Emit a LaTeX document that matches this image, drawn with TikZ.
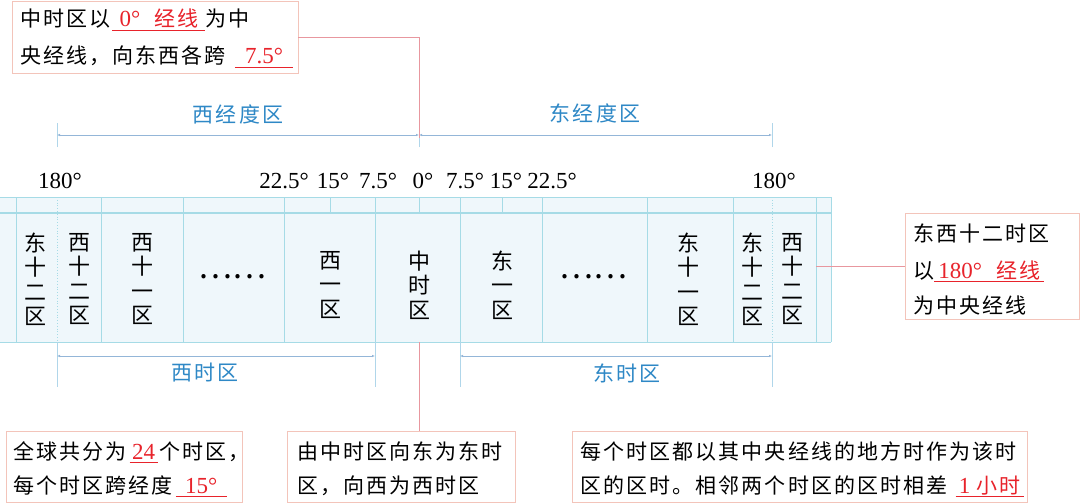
\documentclass[tikz,border=0pt]{standalone}
\usepackage{fontspec}
\setmainfont{Liberation Serif}
\newfontfamily\cjk[LetterSpace=10]{Noto Sans CJK SC}
\newfontfamily\cjkc{Noto Sans CJK SC}
\usetikzlibrary{arrows.meta}
\definecolor{ured}{HTML}{E8232B}
\definecolor{ublue}{HTML}{2E88C6}
\definecolor{gridc}{HTML}{A6DBE6}
\definecolor{bandfill}{HTML}{EFF7FB}
\definecolor{dimc}{HTML}{94B6D8}
\definecolor{tickc}{HTML}{B0D6EA}
\definecolor{pinkl}{HTML}{E8979F}
\definecolor{boxc}{HTML}{F3C4BA}
\newcommand\blankfill[2]{\makebox[#1][c]{\color{ured}#2}\llap{\color{ured}\rule[-4pt]{#1}{0.9pt}}}
\newcommand\latnum[1]{{\rmfamily\fontsize{23}{24}\selectfont #1}}
\tikzset{
  txt/.style={anchor=base west, inner sep=0pt, font=\cjk\fontsize{21}{24}\selectfont},
  infobox/.style={draw=boxc, line width=0.8pt, fill=white, inner sep=0pt},
  deg/.style={anchor=base, inner sep=0pt, font=\rmfamily\fontsize{23}{24}\selectfont},
  cell/.style={align=center, inner sep=0pt, font=\cjkc\fontsize{22}{24.5}\selectfont},
  bluelab/.style={inner sep=0pt, text=ublue, font=\cjk\fontsize{21}{24}\selectfont},
  gridline/.style={draw=gridc, line width=0.8pt},
  dotline/.style={draw=gridc, line width=0.8pt, dotted},
  dimline/.style={draw=dimc, line width=0.7pt, {Latex[length=3pt,width=2.5pt]}-{Latex[length=3pt,width=2.5pt]}},
  tickline/.style={draw=tickc, line width=0.8pt},
  callout/.style={draw=pinkl, line width=0.9pt},
  dots/.style={inner sep=0pt, font=\cjkc\fontsize{32}{32}\selectfont}
}
\begin{document}
\begin{tikzpicture}[x=1pt,y=-1pt]
\useasboundingbox (0,0) rectangle (1080,503);
\fill[white] (0,0) rectangle (1080,503);

% band
\fill[bandfill] (0,197) rectangle (831,342);
\draw[gridline] (0,197) -- (831,197);
\draw[gridline] (0,342) -- (831,342);
\draw[gridline, line width=1.2pt] (0,213) -- (831,213);
\draw[gridline] (831,197) -- (831,342);
\foreach \x in {16,101,183,284,375,460,542,647,733,816}
  \draw[gridline] (\x,197) -- (\x,342);
\foreach \x in {330,419,502}
  \draw[gridline] (\x,197) -- (\x,213);
\foreach \x in {57,772}
  \draw[dotline] (\x,197) -- (\x,342);

% cell texts
\node[cell] (e12a) at (35,279) {东\\十\\二\\区};
\node[cell] (w12a) at (79,279) {西\\十\\二\\区};
\node[cell] (w11) at (142,279) {西\\十\\一\\区};
\node[dots] (dw) at (232,277) {……};
\node[cell] (w1) at (330,285) {西\\一\\区};
\node[cell] (mid) at (419,285) {中\\时\\区};
\node[cell] (e1) at (502,285) {东\\一\\区};
\node[dots] (de) at (593,277) {……};
\node[cell] (e11) at (688,279) {东\\十\\一\\区};
\node[cell] (e12b) at (752,279) {东\\十\\二\\区};
\node[cell] (w12b) at (792,279) {西\\十\\二\\区};

% degree labels
\node[deg] (d180w) at (60,188) {180°};
\node[deg] (d225w) at (284,188) {22.5°};
\node[deg] (d15w) at (333,188) {15°};
\node[deg] (d75w) at (378,188) {7.5°};
\node[deg] (d0) at (423,188) {0°};
\node[deg] (d75e) at (465,188) {7.5°};
\node[deg] (d15e) at (506,188) {15°};
\node[deg] (d225e) at (552,188) {22.5°};
\node[deg] (d180e) at (774,188) {180°};

% top dimension lines
\coordinate (tw) at (57,135);
\coordinate (t0) at (419,135);
\coordinate (te) at (772,135);
\foreach \c in {tw,t0,te}
  \draw[tickline] ([yshift=-12pt]\c) -- ([yshift=12pt]\c);
\draw[dimline] (tw) -- (t0);
\draw[dimline] (t0) -- (te);
\node[bluelab] (wlon) at (238,114) {西经度区};
\node[bluelab] (elon) at (595,113) {东经度区};

% bottom dimension lines
\coordinate (bw1) at (57,356);
\coordinate (bw2) at (375,356);
\coordinate (be1) at (460,356);
\coordinate (be2) at (772,356);
\foreach \x in {57,375,460,772}
  \draw[tickline] (\x,342) -- (\x,387);
\draw[dimline] (bw1) -- (bw2);
\draw[dimline] (be1) -- (be2);
\node[bluelab] (wtz) at (205,373) {西时区};
\node[bluelab] (etz) at (627,373) {东时区};

% boxes
\node[infobox, minimum width=286pt, minimum height=72pt] (tlbox) at (155,37) {};
\node[txt] (tl1) at (20,27) {中时区以\hspace{2pt}\blankfill{93pt}{\latnum{0°}\hspace{14pt}经线}为中};
\node[txt] (tl2) at (20,64) {央经线，向东西各跨\hspace{9pt}\blankfill{58pt}{\latnum{7.5°}}};

\node[infobox, minimum width=174pt, minimum height=106pt] (rbox) at (992,266) {};
\node[txt] (r1) at (913,241) {东西十二时区};
\node[txt] (r2) at (913,278) {以\blankfill{110pt}{\latnum{180°}\hspace{14pt}经线}};
\node[txt] (r3) at (913,313) {为中央经线};

\node[infobox, minimum width=236pt, minimum height=71pt] (blbox) at (124,466.5) {};
\node[txt] (bl1) at (13,459) {全球共分为\hspace{3pt}\blankfill{28pt}{\latnum{24}}\hspace{2pt}个时区，};
\node[txt] (bl2) at (13,493) {每个时区跨经度\hspace{3pt}\blankfill{51pt}{\latnum{15°}}};

\node[infobox, minimum width=228pt, minimum height=71pt] (bmbox) at (401,466.5) {};
\node[txt] (bm1) at (297,459) {由中时区向东为东时};
\node[txt] (bm2) at (297,493) {区，向西为西时区};

\node[infobox, minimum width=455pt, minimum height=71pt] (brbox) at (799.5,466.5) {};
\node[txt] (br1) at (580,459) {每个时区都以其中央经线的地方时作为该时};
\node[txt] (br2) at (580,493) {区的区时。相邻两个时区的区时相差\hspace{8pt}\blankfill{68pt}{\latnum{1}\hspace{6pt}小时}};

% callouts
\draw[callout] (tlbox.east) -| ([yshift=-3pt]t0);
\coordinate (midbot) at (419,342);
\draw[callout] (midbot) -- (midbot |- bmbox.north);
\coordinate (bandR) at (816,266);
\draw[callout] (bandR) -- (rbox.west);
\end{tikzpicture}
\end{document}
